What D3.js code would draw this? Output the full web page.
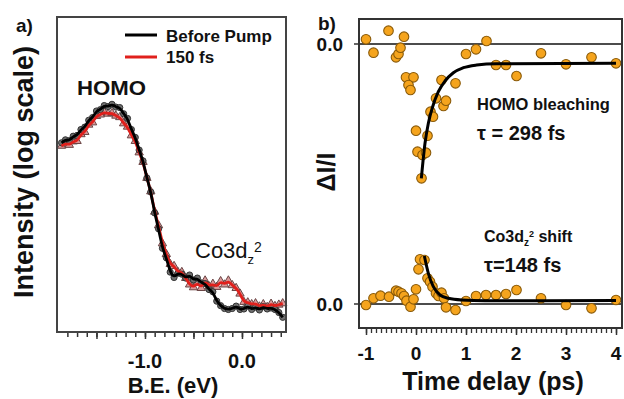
<!DOCTYPE html>
<html>
<head>
<meta charset="utf-8">
<script src="https://cdn.jsdelivr.net/npm/d3@7"></script>
<style>
  body { margin: 0; background: #fff; }
  svg { display: block; font-family: "Liberation Sans", Arial, sans-serif; }
  .lbl { font-weight: bold; fill: #111; }
</style>
</head>
<body>
<svg id="chart" width="624" height="399"></svg>
<script>
// ---- panel a : photoemission spectra (log intensity) ----
const beValues = [-1.86,-1.82,-1.78,-1.74,-1.70,-1.66,-1.62,-1.58,-1.54,-1.50,-1.46,-1.42,-1.38,-1.34,-1.30,-1.26,-1.22,-1.18,-1.14,-1.10,
  -1.06,-1.02,-0.98,-0.94,-0.90,-0.86,-0.82,-0.78,-0.74,-0.70,-0.66,-0.62,-0.58,-0.54,-0.50,-0.46,-0.42,-0.38,-0.34,-0.30,
  -0.26,-0.22,-0.18,-0.14,-0.10,-0.06,-0.02,0.02,0.06,0.10,0.14,0.18,0.22,0.26,0.30,0.34,0.38,0.42];
const beforePump = [1590,1660,1640,1750,1770,1930,2000,2210,2300,2530,2580,2740,2700,2790,2680,2660,2430,2270,1930,1720,
  1430,1220,950,775,570,452,340,296,240,222,236,233,220,230,214,220,205,203,186,180,
  157,147,141,139,141,146,139,140,146,139,144,138,145,140,142,139,133,124];
const pump150fs = [1520,1575,1540,1620,1630,1800,1860,2070,2140,2350,2400,2490,2430,2450,2360,2310,2110,2010,1770,1630,
  1380,1200,950,780,580,475,365,312,270,262,240,240,220,200,192,206,190,212,195,202,
  193,210,200,212,198,190,175,155,154,150,152,145,150,144,151,146,149,152];
const beTickLabels = [-1.0, 0.0];

// ---- panel b : time traces ----
const homoT = [-1.0,-0.85,-0.55,-0.40,-0.35,-0.31,-0.24,-0.20,-0.05,-0.15,-0.11,0.0,0.03,0.13,0.20,0.23,0.11,0.29,0.34,0.40,
  0.55,0.60,0.51,0.79,1.0,1.2,1.41,1.6,1.8,2.01,2.5,3.0,3.51,4.0];
const homoV = [0.047,-0.087,0.133,-0.133,-0.10,-0.037,0.073,-0.333,-0.333,-0.41,-0.46,-0.867,-1.077,-1.11,-1.087,-0.917,-1.343,-0.677,-0.727,-0.543,
  -0.62,-0.567,-0.36,-0.393,-0.10,-0.053,0.03,-0.21,-0.21,-0.32,-0.093,-0.203,-0.133,-0.193];
const homoFitT = [0.107,0.18,0.247,0.333,0.447,0.58,0.747,0.947,1.213,1.613,4.0];
const homoFitV = [-1.343,-0.993,-0.793,-0.627,-0.477,-0.37,-0.287,-0.237,-0.21,-0.197,-0.193];

const coT = [-1.0,-0.85,-0.71,-0.54,-0.40,-0.35,-0.29,-0.24,-0.19,-0.11,-0.05,0.0,0.05,0.08,0.17,0.23,0.28,0.33,0.40,0.45,
  0.51,0.56,0.60,0.79,1.0,1.2,1.4,1.6,1.8,2.01,2.5,3.0,3.51,4.0];
const coV = [-0.01,0.057,0.083,0.073,0.133,0.123,0.107,0.08,0.033,-0.027,0.047,0.147,0.347,0.447,0.44,0.257,0.223,0.173,0.107,0.08,
  0.113,0.057,-0.033,-0.06,0.03,0.08,0.09,0.09,0.10,0.14,0.057,-0.01,-0.043,0.04];
const coFitT = [0.167,0.247,0.347,0.48,0.647,0.913,1.38,4.0];
const coFitV = [0.48,0.307,0.173,0.09,0.057,0.04,0.033,0.035];
const coOffset = -2.6;
const timeTickLabels = [-1, 0, 1, 2, 3, 4];

const svg = d3.select("#chart");

// ================= panel a =================
const xA = d3.scaleLinear().domain([-1.907, 0.454]).range([57, 286]);
const yA = d3.scaleLog().domain([100, 10000]).range([332, 17]);
const gA = svg.append("g");

const minorA = d3.range(-18, 5).map(d => d / 10);
gA.append("g").attr("transform", "translate(0,332)")
  .call(d3.axisBottom(xA).tickValues(minorA).tickSize(5).tickFormat(""))
  .call(g => g.select(".domain").remove())
  .call(g => g.selectAll("line").attr("stroke", "#333").attr("stroke-width", 1.5));
gA.append("g").attr("transform", "translate(0,332)")
  .call(d3.axisBottom(xA).tickValues([-1.5, -1.0, -0.5, 0.0]).tickSize(7).tickFormat(""))
  .call(g => g.select(".domain").remove())
  .call(g => g.selectAll("line").attr("stroke", "#333").attr("stroke-width", 1.5));
gA.selectAll("text.tkA").data(beTickLabels).join("text")
  .attr("class", "lbl").attr("x", d => xA(d)).attr("y", 368)
  .attr("text-anchor", "middle").attr("font-size", 20)
  .text(d => d3.format(".1f")(d).replace("−", "-"));

const ptsBefore = beValues.map((b, i) => [b, beforePump[i]]);
const pts150 = beValues.map((b, i) => [b, pump150fs[i]]);
const lineA = d3.line().x(d => xA(d[0])).y(d => yA(d[1])).curve(d3.curveBasis);

gA.selectAll("path.tri").data(pts150).join("path")
  .attr("d", d3.symbol(d3.symbolTriangle, 30))
  .attr("transform", d => `translate(${xA(d[0])},${yA(d[1])})`)
  .attr("fill", "#d99a9a").attr("stroke", "#6a4444").attr("stroke-width", 1);
gA.selectAll("circle.gc").data(ptsBefore).join("circle")
  .attr("cx", d => xA(d[0])).attr("cy", d => yA(d[1])).attr("r", 3.1)
  .attr("fill", "#6f6f6f").attr("stroke", "#333").attr("stroke-width", 1);
gA.append("path").datum(pts150).attr("d", lineA)
  .attr("fill", "none").attr("stroke", "#e0201c").attr("stroke-width", 2.8);
gA.append("path").datum(ptsBefore).attr("d", lineA)
  .attr("fill", "none").attr("stroke", "#000").attr("stroke-width", 2.8);

gA.append("rect").attr("x", 57).attr("y", 17).attr("width", 229).attr("height", 315)
  .attr("fill", "none").attr("stroke", "#444").attr("stroke-width", 2);

// legend
gA.append("line").attr("x1", 125).attr("x2", 157).attr("y1", 35).attr("y2", 35)
  .attr("stroke", "#000").attr("stroke-width", 3);
gA.append("line").attr("x1", 125).attr("x2", 157).attr("y1", 57).attr("y2", 57)
  .attr("stroke", "#e0201c").attr("stroke-width", 3);
gA.append("text").attr("class", "lbl").attr("x", 166).attr("y", 41.5).attr("font-size", 17).text("Before Pump");
gA.append("text").attr("class", "lbl").attr("x", 166).attr("y", 63).attr("font-size", 17).text("150 fs");

gA.append("text").attr("class", "lbl").attr("x", 77).attr("y", 95).attr("font-size", 20)
  .attr("textLength", 69).attr("lengthAdjust", "spacingAndGlyphs").text("HOMO");
const co = gA.append("text").attr("x", 195).attr("y", 258).attr("font-size", 22).attr("fill", "#111");
co.append("tspan").text("Co3d");
co.append("tspan").attr("dy", 6).attr("font-size", 13).text("z");
co.append("tspan").attr("dy", -12).attr("font-size", 14).text("2");

gA.append("text").attr("class", "lbl").attr("x", 16).attr("y", 32).attr("font-size", 19).text("a)");
gA.append("text").attr("class", "lbl").attr("transform", "translate(33,172) rotate(-90)")
  .attr("text-anchor", "middle").attr("font-size", 27).text("Intensity (log scale)");
gA.append("text").attr("class", "lbl").attr("x", 173).attr("y", 393)
  .attr("text-anchor", "middle").attr("font-size", 22).text("B.E. (eV)");

// ================= panel b =================
const xB = d3.scaleLinear().domain([-1.14, 4.12]).range([359, 622]);
const yB = d3.scaleLinear().domain([-2.84, 0.25]).range([328, 19]);
const gB = svg.append("g");

const minorB = d3.range(-10, 41).map(d => d / 10);
gB.append("g").attr("transform", "translate(0,328)")
  .call(d3.axisBottom(xB).tickValues(minorB).tickSize(5).tickFormat(""))
  .call(g => g.select(".domain").remove())
  .call(g => g.selectAll("line").attr("stroke", "#333").attr("stroke-width", 1.3));
gB.append("g").attr("transform", "translate(0,328)")
  .call(d3.axisBottom(xB).tickValues(timeTickLabels).tickSize(7).tickFormat(""))
  .call(g => g.select(".domain").remove())
  .call(g => g.selectAll("line").attr("stroke", "#333").attr("stroke-width", 1.5));
gB.selectAll("text.tkB").data(timeTickLabels).join("text")
  .attr("class", "lbl").attr("x", d => xB(d)).attr("y", 360)
  .attr("text-anchor", "middle").attr("font-size", 19)
  .text(d => String(d));

// zero lines + left ticks
[0, coOffset].forEach(z => {
  gB.append("line").attr("x1", 359).attr("x2", 622).attr("y1", yB(z)).attr("y2", yB(z))
    .attr("stroke", "#111").attr("stroke-width", 1.6);
  gB.append("line").attr("x1", 354).attr("x2", 359).attr("y1", yB(z)).attr("y2", yB(z))
    .attr("stroke", "#333").attr("stroke-width", 1.5);
  gB.append("text").attr("class", "lbl").attr("x", 343).attr("y", yB(z) + 6.5)
    .attr("text-anchor", "end").attr("font-size", 19).text("0.0");
});

const homoPts = homoT.map((t, i) => [t, homoV[i]]);
const coPts = coT.map((t, i) => [t, coV[i] + coOffset]);
const homoFit = homoFitT.map((t, i) => [t, homoFitV[i]]);
const coFit = coFitT.map((t, i) => [t, coFitV[i] + coOffset]);
const lineB = d3.line().x(d => xB(d[0])).y(d => yB(d[1])).curve(d3.curveMonotoneX);

gB.selectAll("circle.o").data(homoPts.concat(coPts)).join("circle")
  .attr("cx", d => xB(d[0])).attr("cy", d => yB(d[1])).attr("r", 4.8)
  .attr("fill", "#f5a41d").attr("stroke", "#8a5a08").attr("stroke-width", 1.1);
gB.append("path").datum(homoFit).attr("d", lineB)
  .attr("fill", "none").attr("stroke", "#000").attr("stroke-width", 3);
gB.append("path").datum(coFit).attr("d", lineB)
  .attr("fill", "none").attr("stroke", "#000").attr("stroke-width", 3);

gB.append("rect").attr("x", 359).attr("y", 19).attr("width", 263).attr("height", 309)
  .attr("fill", "none").attr("stroke", "#333").attr("stroke-width", 2);

gB.append("text").attr("class", "lbl").attr("x", 477).attr("y", 110).attr("font-size", 16.5).text("HOMO bleaching");
gB.append("text").attr("class", "lbl").attr("x", 477).attr("y", 140).attr("font-size", 20).text("τ = 298 fs");
const cs = gB.append("text").attr("class", "lbl").attr("x", 484).attr("y", 242).attr("font-size", 16);
cs.append("tspan").text("Co3d");
cs.append("tspan").attr("dy", 4).attr("font-size", 10).text("z");
cs.append("tspan").attr("dy", -9).attr("font-size", 9).text("2");
cs.append("tspan").attr("dy", 5).text(" shift");
gB.append("text").attr("class", "lbl").attr("x", 484).attr("y", 272).attr("font-size", 20).text("τ=148 fs");

gB.append("text").attr("class", "lbl").attr("x", 318).attr("y", 30).attr("font-size", 19).text("b)");
gB.append("text").attr("class", "lbl").attr("transform", "translate(335,172) rotate(-90)")
  .attr("text-anchor", "middle").attr("font-size", 25).text("ΔI/I");
gB.append("text").attr("class", "lbl").attr("x", 493).attr("y", 390)
  .attr("text-anchor", "middle").attr("font-size", 25).text("Time delay (ps)");
</script>
</body>
</html>
